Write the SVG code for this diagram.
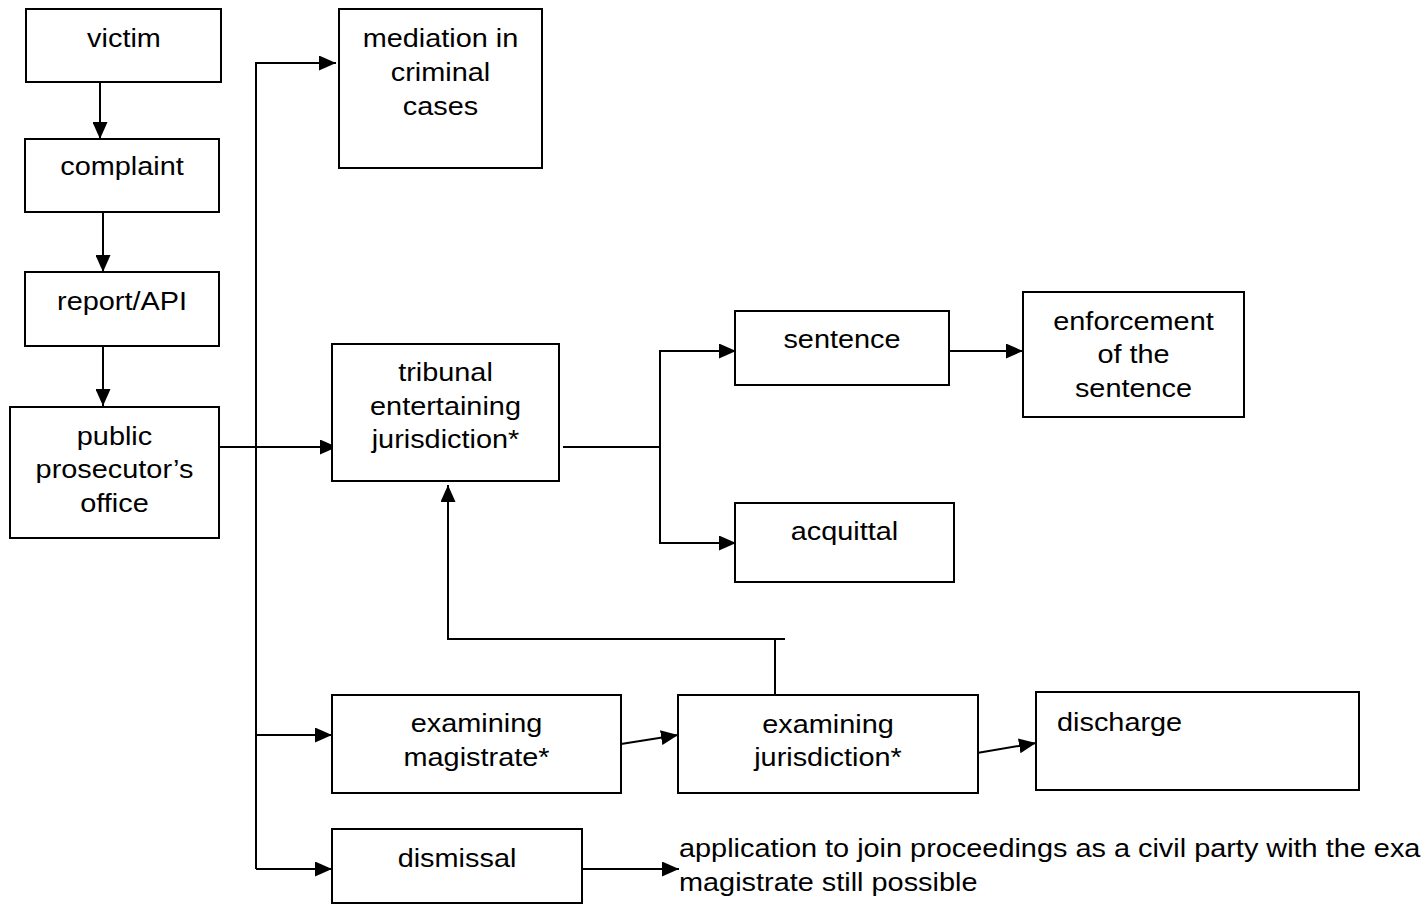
<svg xmlns="http://www.w3.org/2000/svg" width="1421" height="904" viewBox="0 0 1421 904">
<style>
.box{fill:#fff;stroke:#000;stroke-width:2}
.t{font-family:"Liberation Sans",Arial,sans-serif;font-size:26.5px;fill:#000;text-anchor:middle}
.l{text-anchor:start}
.c{fill:none;stroke:#000;stroke-width:2}
</style>
<defs>
<marker id="ah" markerUnits="userSpaceOnUse" markerWidth="17" markerHeight="15" refX="17" refY="7.5" orient="auto">
<path d="M0,0 L17,7.5 L0,15 z" fill="#000"/>
</marker>
</defs>
<rect width="1421" height="904" fill="#fff"/>
<g id="connectors">
<line class="c" x1="100" y1="82" x2="100" y2="139" marker-end="url(#ah)"/>
<line class="c" x1="103" y1="212" x2="103" y2="272" marker-end="url(#ah)"/>
<line class="c" x1="103" y1="346" x2="103" y2="406" marker-end="url(#ah)"/>
<polyline class="c" points="256,869 256,63 336,63" marker-end="url(#ah)"/>
<line class="c" x1="219" y1="447" x2="337" y2="447" marker-end="url(#ah)"/>
<line class="c" x1="256" y1="735" x2="332" y2="735" marker-end="url(#ah)"/>
<line class="c" x1="256" y1="869" x2="332" y2="869" marker-end="url(#ah)"/>
<line class="c" x1="563" y1="447" x2="660" y2="447"/>
<polyline class="c" points="736,351 660,351 660,543 736,543"/>
<line class="c" x1="660" y1="351" x2="736" y2="351" marker-end="url(#ah)"/>
<line class="c" x1="660" y1="543" x2="736" y2="543" marker-end="url(#ah)"/>
<line class="c" x1="949" y1="351" x2="1023" y2="351" marker-end="url(#ah)"/>
<line class="c" x1="775" y1="695" x2="775" y2="639"/>
<polyline class="c" points="785,639 448,639 448,485" marker-end="url(#ah)"/>
<line class="c" x1="621" y1="744" x2="678" y2="735" marker-end="url(#ah)"/>
<line class="c" x1="977" y1="753" x2="1036" y2="743" marker-end="url(#ah)"/>
<line class="c" x1="583" y1="869" x2="679" y2="869" marker-end="url(#ah)"/>
</g>
<g id="victim">
<rect class="box" x="26" y="9" width="195" height="73"/>
<text class="t" transform="translate(124 0) scale(1.09 1)" x="0" y="47">victim</text>
</g>
<g id="complaint">
<rect class="box" x="25" y="139" width="194" height="73"/>
<text class="t" transform="translate(122 0) scale(1.09 1)" x="0" y="175">complaint</text>
</g>
<g id="report">
<rect class="box" x="25" y="272" width="194" height="74"/>
<text class="t" transform="translate(122 0) scale(1.09 1)" x="0" y="310">report/API</text>
</g>
<g id="prosecutor">
<rect class="box" x="10" y="407" width="209" height="131"/>
<text class="t" transform="translate(114.5 0) scale(1.09 1)" y="445"><tspan x="0">public</tspan><tspan x="0" dy="33.5">prosecutor’s</tspan><tspan x="0" dy="33.5">office</tspan></text>
</g>
<g id="mediation">
<rect class="box" x="339" y="9" width="203" height="159"/>
<text class="t" transform="translate(440.5 0) scale(1.09 1)" y="47"><tspan x="0">mediation in</tspan><tspan x="0" dy="34">criminal</tspan><tspan x="0" dy="34">cases</tspan></text>
</g>
<g id="tribunal">
<rect class="box" x="332" y="344" width="227" height="137"/>
<text class="t" transform="translate(445.5 0) scale(1.09 1)" y="381.5"><tspan x="0">tribunal</tspan><tspan x="0" dy="33.5">entertaining</tspan><tspan x="0" dy="33.5">jurisdiction*</tspan></text>
</g>
<g id="sentence">
<rect class="box" x="735" y="311" width="214" height="74"/>
<text class="t" transform="translate(842 0) scale(1.09 1)" x="0" y="348">sentence</text>
</g>
<g id="enforcement">
<rect class="box" x="1023" y="292" width="221" height="125"/>
<text class="t" transform="translate(1133.5 0) scale(1.09 1)" y="330"><tspan x="0">enforcement</tspan><tspan x="0" dy="33.5">of the</tspan><tspan x="0" dy="33.5">sentence</tspan></text>
</g>
<g id="acquittal">
<rect class="box" x="735" y="503" width="219" height="79"/>
<text class="t" transform="translate(844.5 0) scale(1.09 1)" x="0" y="540.5">acquittal</text>
</g>
<g id="examining-magistrate">
<rect class="box" x="332" y="695" width="289" height="98"/>
<text class="t" transform="translate(476.5 0) scale(1.09 1)" y="732"><tspan x="0">examining</tspan><tspan x="0" dy="34.5">magistrate*</tspan></text>
</g>
<g id="examining-jurisdiction">
<rect class="box" x="678" y="695" width="300" height="98"/>
<text class="t" transform="translate(828 0) scale(1.09 1)" y="732.5"><tspan x="0">examining</tspan><tspan x="0" dy="34">jurisdiction*</tspan></text>
</g>
<g id="discharge">
<rect class="box" x="1036" y="692" width="323" height="98"/>
<text class="t l" transform="translate(1057 0) scale(1.09 1)" x="0" y="731">discharge</text>
</g>
<g id="dismissal">
<rect class="box" x="332" y="829" width="250" height="74"/>
<text class="t" transform="translate(457 0) scale(1.09 1)" x="0" y="867">dismissal</text>
</g>
<g id="civil-party-note">
<text class="t l" transform="translate(679 0) scale(1.09 1)" y="857"><tspan x="0">application to join proceedings as a civil party with the examining</tspan><tspan x="0" dy="34">magistrate still possible</tspan></text>
</g>
</svg>
